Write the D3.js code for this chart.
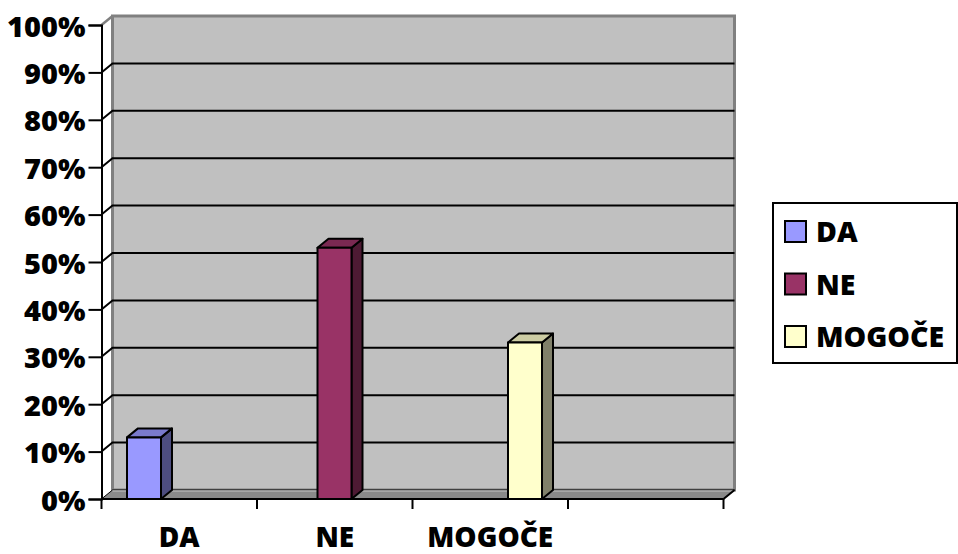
<!DOCTYPE html>
<html><head><meta charset="utf-8">
<script src="https://cdn.jsdelivr.net/npm/d3@7"></script>
<style>body{margin:0;background:#fff}svg{display:block}text{font-family:"Open Sans",sans-serif;font-weight:800;fill:#000}</style>
</head><body>
<svg id="c" width="958" height="554"></svg>
<script>
const categories = ["DA", "NE", "MOGOČE"];
const values = [13, 53, 33];
const yTicks = [0, 10, 20, 30, 40, 50, 60, 70, 80, 90, 100];
const frontColors = ["#9999ff", "#993366", "#ffffcc"];
const topColors = ["#7a7acc", "#7a2952", "#cccca3"];
const sideColors = ["#4d4d80", "#4d1a33", "#80806a"];

const svg = d3.select("#c");
const DX = 11, DY = 9;
const y = d3.scaleLinear().domain([0, 100]).range([499, 25]);
const xAxis = d3.scaleBand().domain([...categories, ""]).range([101.5, 723.5]);
const xBar = d3.scalePoint().domain(categories).range([144, 525]);
const barW = 34;

const x0 = xAxis.range()[0], x1 = xAxis.range()[1];
svg.append("rect").attr("x", x0 + DX).attr("y", y(100) - DY).attr("width", x1 - x0).attr("height", y(0) - y(100))
  .attr("fill", "#c0c0c0").attr("stroke", "#808080").attr("stroke-width", 3);
// floor
svg.append("path").attr("d", `M${x0},${y(0)}L${x0+DX},${y(0)-DY}L${x1+DX},${y(0)-DY}L${x1},${y(0)}Z`)
  .attr("fill", "#8a8a8a").attr("stroke", "#000").attr("stroke-width", 1);
svg.append("line").attr("x1", x0 + DX).attr("x2", x1 + DX).attr("y1", y(0) - DY + 1).attr("y2", y(0) - DY + 1)
  .attr("stroke", "#b0b0b0").attr("stroke-width", 1.5);

// gridlines
yTicks.filter(t => t > 0 && t < 100).forEach(t => {
  svg.append("path").attr("d", `M${x0},${y(t)}L${x0+DX},${y(t)-DY}L${x1+DX},${y(t)-DY}`)
    .attr("fill", "none").attr("stroke", "#000").attr("stroke-width", 2);
});
svg.append("line").attr("x1", x0).attr("y1", y(100)).attr("x2", x0 + DX).attr("y2", y(100) - DY)
  .attr("stroke", "#808080").attr("stroke-width", 2.5);

// bars
categories.forEach((c, i) => {
  const xl = xBar(c) - barW / 2, xr = xl + barW, yt = y(values[i]), yb = y(0);
  const g = svg.append("g").attr("stroke", "#000").attr("stroke-width", 2).attr("stroke-linejoin", "round");
  g.append("path").attr("d", `M${xr},${yb}L${xr+DX},${yb-DY}L${xr+DX},${yt-DY}L${xr},${yt}Z`).attr("fill", sideColors[i]);
  g.append("path").attr("d", `M${xl},${yt}L${xl+DX},${yt-DY}L${xr+DX},${yt-DY}L${xr},${yt}Z`).attr("fill", topColors[i]);
  g.append("rect").attr("x", xl).attr("y", yt).attr("width", barW).attr("height", yb - yt).attr("fill", frontColors[i]);
});

// y axis
const ya = svg.append("g").attr("transform", `translate(${x0},0)`)
  .call(d3.axisLeft(y).tickValues(yTicks).tickFormat(d => d + "%").tickSize(13).tickPadding(3));
ya.select(".domain").attr("stroke", "#000").attr("stroke-width", 2);
ya.selectAll(".tick line").attr("stroke", "#000").attr("stroke-width", 2);
ya.selectAll(".tick text").attr("font-size", 29).attr("font-family", "'Open Sans',sans-serif").attr("font-weight", 800).attr("fill", "#000").attr("dy", "0.38em");

// x axis
const xa = svg.append("g").attr("transform", `translate(0,${y(0)})`);
xa.append("line").attr("x1", x0).attr("x2", x1).attr("stroke", "#000").attr("stroke-width", 2);
xa.append("line").attr("x1", x1).attr("y1", 0).attr("x2", x1 + DX).attr("y2", -DY).attr("stroke", "#000").attr("stroke-width", 2);
const tickXs = xAxis.domain().map(d => xAxis(d)).concat([x1]);
xa.selectAll(".tk").data(tickXs).enter().append("line")
  .attr("x1", d => d).attr("x2", d => d).attr("y1", 0).attr("y2", 10).attr("stroke", "#000").attr("stroke-width", 2);
xa.selectAll(".lb").data(categories).enter().append("text")
  .attr("x", d => xAxis(d) + xAxis.bandwidth() / 2).attr("y", 48).attr("text-anchor", "middle")
  .attr("font-size", 28).text(d => d);

// legend
const lg = svg.append("g");
lg.append("rect").attr("x", 773).attr("y", 203).attr("width", 184).attr("height", 160)
  .attr("fill", "#fff").attr("stroke", "#000").attr("stroke-width", 2);
categories.forEach((c, i) => {
  const yy = 221 + i * 52.5;
  lg.append("rect").attr("x", 785).attr("y", yy).attr("width", 21).attr("height", 21)
    .attr("fill", frontColors[i]).attr("stroke", "#000").attr("stroke-width", 2);
  lg.append("text").attr("x", 816).attr("y", yy + 21).attr("font-size", 28.5).text(c);
});
</script>
</body></html>
